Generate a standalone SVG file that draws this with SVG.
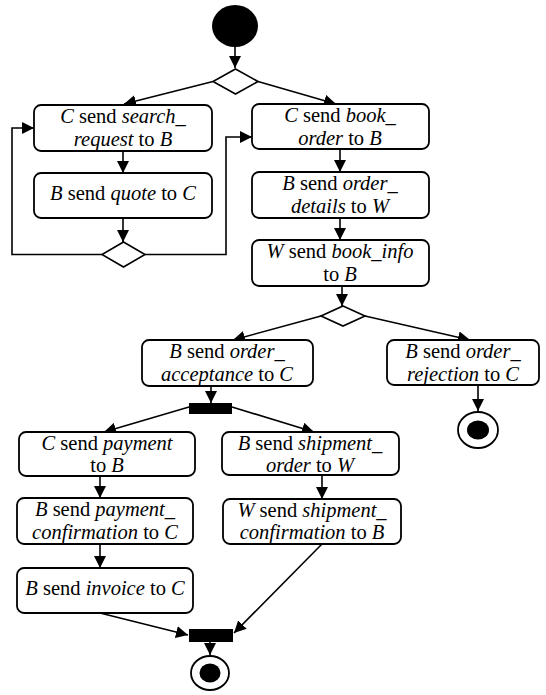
<svg xmlns="http://www.w3.org/2000/svg" width="546" height="695" viewBox="0 0 546 695">
  <style>
    .act { fill: #ffffff; stroke: #000000; stroke-width: 1.8; }
    .dec { fill: #ffffff; stroke: #000000; stroke-width: 1.6; }
    .bar { fill: #000000; }
    .dot { fill: #000000; }
    .ring { fill: #ffffff; stroke: #000000; stroke-width: 1.8; }
    .edge { fill: none; stroke: #000000; stroke-width: 1.6; }
  </style>
  <defs>
    <marker id="arrow" viewBox="0 0 12 12" refX="12" refY="6" markerWidth="12" markerHeight="12" markerUnits="userSpaceOnUse" orient="auto">
      <path d="M0,0 L12,6 L0,12 Z" fill="#000000"/>
    </marker>
  </defs>

  <rect x="0" y="0" width="546" height="695" fill="#ffffff"/>

  <!-- connectors -->
  <g id="connectors">
    <path class="edge" d="M235,47 L235,68" marker-end="url(#arrow)"/>
    <path class="edge" d="M213,81.5 L124,104" marker-end="url(#arrow)"/>
    <path class="edge" d="M258,81.5 L336,104" marker-end="url(#arrow)"/>
    <path class="edge" d="M123,151 L123,173" marker-end="url(#arrow)"/>
    <path class="edge" d="M123,218 L123,242" marker-end="url(#arrow)"/>
    <path class="edge" d="M102,254.5 L12,254.5 L12,128 L34,128" marker-end="url(#arrow)"/>
    <path class="edge" d="M145,254.5 L226,254.5 L226,137 L252,137" marker-end="url(#arrow)"/>
    <path class="edge" d="M340,149 L340,172" marker-end="url(#arrow)"/>
    <path class="edge" d="M340,218 L340,240" marker-end="url(#arrow)"/>
    <path class="edge" d="M342,286 L342,306" marker-end="url(#arrow)"/>
    <path class="edge" d="M321,316 L233,340" marker-end="url(#arrow)"/>
    <path class="edge" d="M365,316 L470,340" marker-end="url(#arrow)"/>
    <path class="edge" d="M211,386 L211,403" marker-end="url(#arrow)"/>
    <path class="edge" d="M478,385 L478,411" marker-end="url(#arrow)"/>
    <path class="edge" d="M189,407 L104,432" marker-end="url(#arrow)"/>
    <path class="edge" d="M232,407 L314,432" marker-end="url(#arrow)"/>
    <path class="edge" d="M100,476 L100,498" marker-end="url(#arrow)"/>
    <path class="edge" d="M100,544 L100,568" marker-end="url(#arrow)"/>
    <path class="edge" d="M322,475 L322,499" marker-end="url(#arrow)"/>
    <path class="edge" d="M100,613 L188,635" marker-end="url(#arrow)"/>
    <path class="edge" d="M322,544 L234,633" marker-end="url(#arrow)"/>
    <path class="edge" d="M210,642 L210,655" marker-end="url(#arrow)"/>
  </g>

  <!-- initial node -->
  <g id="start">
    <ellipse class="dot" cx="235" cy="26" rx="23" ry="21"/>
  </g>

  <!-- decision / merge nodes -->
  <g id="decision-top">
    <polygon class="dec" points="235.5,69 258,81.5 235.5,94 213,81.5"/>
  </g>
  <g id="merge-loop">
    <polygon class="dec" points="123.5,242 145,254.5 123.5,267 102,254.5"/>
  </g>
  <g id="decision-order">
    <polygon class="dec" points="343,306 365,316 343,326 321,316"/>
  </g>

  <!-- actions (labels use a Times-metric serif) -->
  <g font-family="Liberation Serif, Times New Roman, serif" font-size="20.5" fill="#000000" text-anchor="middle">
  <g id="search-request">
    <rect class="act" x="34" y="105" width="178" height="46" rx="7"/>
    <text x="123" y="123"><tspan font-style="italic">C</tspan> send <tspan font-style="italic">search_</tspan></text>
    <text x="123" y="146"><tspan font-style="italic">request</tspan> to <tspan font-style="italic">B</tspan></text>
  </g>
  <g id="quote">
    <rect class="act" x="34" y="173" width="178" height="45" rx="7"/>
    <text x="123" y="200"><tspan font-style="italic">B</tspan> send <tspan font-style="italic">quote</tspan> to <tspan font-style="italic">C</tspan></text>
  </g>
  <g id="book-order">
    <rect class="act" x="252" y="104" width="177" height="45" rx="7"/>
    <text x="340" y="122"><tspan font-style="italic">C</tspan> send <tspan font-style="italic">book_</tspan></text>
    <text x="340" y="145"><tspan font-style="italic">order</tspan> to <tspan font-style="italic">B</tspan></text>
  </g>
  <g id="order-details">
    <rect class="act" x="252" y="172" width="177" height="46" rx="7"/>
    <text x="340" y="190"><tspan font-style="italic">B</tspan> send <tspan font-style="italic">order_</tspan></text>
    <text x="340" y="213"><tspan font-style="italic">details</tspan> to <tspan font-style="italic">W</tspan></text>
  </g>
  <g id="book-info">
    <rect class="act" x="252" y="240" width="177" height="46" rx="7"/>
    <text x="340" y="258"><tspan font-style="italic">W</tspan> send <tspan font-style="italic">book_info</tspan></text>
    <text x="340" y="281">to <tspan font-style="italic">B</tspan></text>
  </g>
  <g id="order-acceptance">
    <rect class="act" x="142" y="340" width="171" height="46" rx="7"/>
    <text x="227" y="358"><tspan font-style="italic">B</tspan> send <tspan font-style="italic">order_</tspan></text>
    <text x="227" y="381"><tspan font-style="italic">acceptance</tspan> to <tspan font-style="italic">C</tspan></text>
  </g>
  <g id="order-rejection">
    <rect class="act" x="387" y="340" width="152" height="45" rx="7"/>
    <text x="463" y="358"><tspan font-style="italic">B</tspan> send <tspan font-style="italic">order_</tspan></text>
    <text x="463" y="381"><tspan font-style="italic">rejection</tspan> to <tspan font-style="italic">C</tspan></text>
  </g>
  <g id="payment">
    <rect class="act" x="19" y="432" width="176" height="44" rx="7"/>
    <text x="107" y="450"><tspan font-style="italic">C</tspan> send <tspan font-style="italic">payment</tspan></text>
    <text x="107" y="472">to <tspan font-style="italic">B</tspan></text>
  </g>
  <g id="shipment-order">
    <rect class="act" x="222" y="432" width="177" height="43" rx="7"/>
    <text x="310" y="450"><tspan font-style="italic">B</tspan> send <tspan font-style="italic">shipment_</tspan></text>
    <text x="310" y="472"><tspan font-style="italic">order</tspan> to <tspan font-style="italic">W</tspan></text>
  </g>
  <g id="payment-confirmation">
    <rect class="act" x="17" y="498" width="176" height="46" rx="7"/>
    <text x="105" y="516"><tspan font-style="italic">B</tspan> send <tspan font-style="italic">payment_</tspan></text>
    <text x="105" y="539"><tspan font-style="italic">confirmation</tspan> to <tspan font-style="italic">C</tspan></text>
  </g>
  <g id="shipment-confirmation">
    <rect class="act" x="223" y="499" width="178" height="45" rx="7"/>
    <text x="312" y="517"><tspan font-style="italic">W</tspan> send <tspan font-style="italic">shipment_</tspan></text>
    <text x="312" y="539"><tspan font-style="italic">confirmation</tspan> to <tspan font-style="italic">B</tspan></text>
  </g>
  <g id="invoice">
    <rect class="act" x="17" y="568" width="176" height="45" rx="7"/>
    <text x="105" y="595"><tspan font-style="italic">B</tspan> send <tspan font-style="italic">invoice</tspan> to <tspan font-style="italic">C</tspan></text>
  </g>
  </g>

  <!-- fork and join bars -->
  <g id="fork">
    <rect class="bar" x="189" y="403" width="43" height="11"/>
  </g>
  <g id="join">
    <rect class="bar" x="189" y="629" width="44" height="13"/>
  </g>

  <!-- final nodes -->
  <g id="end-rejected">
    <ellipse class="ring" cx="478" cy="430" rx="20" ry="18"/>
    <ellipse class="dot" cx="478" cy="430" rx="11" ry="9.5"/>
  </g>
  <g id="end">
    <ellipse class="ring" cx="210" cy="673" rx="19" ry="17"/>
    <ellipse class="dot" cx="210" cy="673" rx="10.5" ry="9.5"/>
  </g>
</svg>
